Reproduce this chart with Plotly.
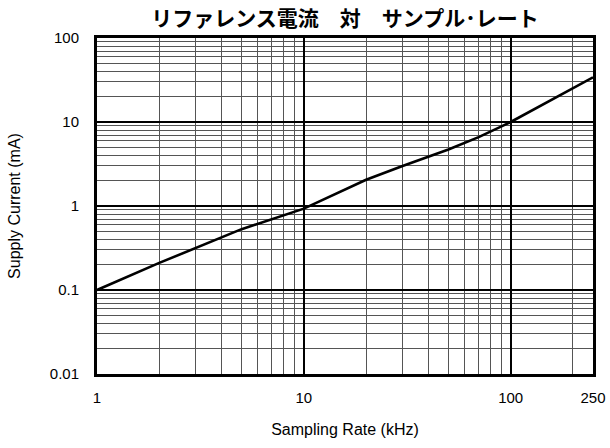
import plotly.graph_objects as go

# Reference supply current versus sampling rate
rate_khz = [1, 2, 5, 10, 20, 30, 50, 70, 100, 200, 250]
current_ma = [0.1, 0.21, 0.53, 0.93, 2.05, 3.0, 4.7, 6.6, 10.0, 25.0, 34.0]

x_tickvals = [1, 10, 100, 250]
x_ticktext = ["1", "10", "100", "250"]
y_tickvals = [0.01, 0.1, 1, 10, 100]
y_ticktext = ["0.01", "0.1", "1", "10", "100"]

x_minor = [m * d for d in (1, 10, 100) for m in range(2, 10) if m * d < 250]
y_minor = [m * d for d in (0.01, 0.1, 1, 10) for m in range(2, 10)]

title_text = "リファレンス電流　対　サンプル･レート"

tick_font = dict(family="Liberation Sans, Arial, sans-serif", size=15, color="black")
axis_title_font = dict(family="Liberation Sans, Arial, sans-serif", size=16, color="black")

fig = go.Figure()
fig.add_trace(go.Scatter(
    x=rate_khz, y=current_ma, mode="lines",
    line=dict(color="black", width=2.6), showlegend=False,
))

axis_common = dict(
    type="log", automargin=False,
    showline=True, linecolor="black", linewidth=3, mirror=True,
    showgrid=True, gridcolor="black", gridwidth=2,
    ticks="", zeroline=False,
    tickfont=tick_font,
)

fig.update_xaxes(
    **axis_common,
    range=[0, 2.39794],
    tickmode="array", tickvals=x_tickvals, ticktext=x_ticktext,
    ticklabelstandoff=8,
    minor=dict(tickmode="array", tickvals=x_minor, showgrid=True,
               gridcolor="#555555", gridwidth=1, ticks=""),
    title=dict(text="Sampling Rate (kHz)", font=axis_title_font, standoff=19),
)
fig.update_yaxes(
    **axis_common,
    range=[-2, 2],
    tickmode="array", tickvals=y_tickvals, ticktext=y_ticktext,
    ticklabelstandoff=12,
    minor=dict(tickmode="array", tickvals=y_minor, showgrid=True,
               gridcolor="#555555", gridwidth=1, ticks=""),
    title=dict(text="Supply Current (mA)", font=axis_title_font, standoff=26),
)

fig.update_layout(
    width=610, height=448,
    margin=dict(l=97, r=17, t=38, b=74),
    paper_bgcolor="white", plot_bgcolor="white",
    title=dict(
        text="<b>" + title_text + "</b>",
        font=dict(family="Noto Sans CJK JP", size=21, color="black"),
        x=0.5656, xanchor="center", y=0.958, yanchor="middle",
    ),
)

fig.write_html("out.html")
